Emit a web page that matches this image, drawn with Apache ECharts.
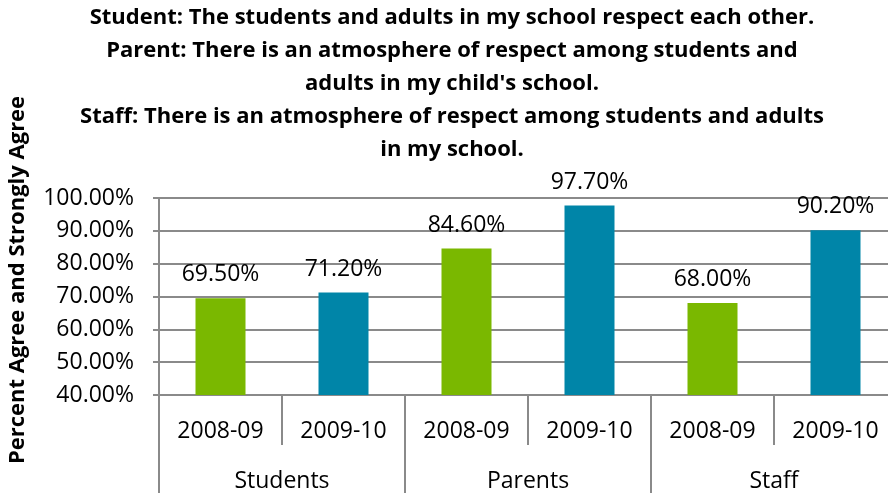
<!DOCTYPE html>
<html>
<head>
<meta charset="utf-8">
<script src="https://cdn.jsdelivr.net/npm/echarts@6/dist/echarts.min.js"></script>
<style>
html,body{margin:0;padding:0;background:#fff;}
#chart{width:888px;height:493px;}
</style>
</head>
<body>
<div id="chart"></div>
<script>
const titleLines = [
  "Student: The students and adults in my school respect each other.",
  "Parent: There is an atmosphere of respect among students and",
  "adults in my child's school.",
  "Staff: There is an atmosphere of respect among students and adults",
  "in my school."
];
const yAxisTitle = "Percent Agree and Strongly Agree";
const years = ["2008-09", "2009-10", "2008-09", "2009-10", "2008-09", "2009-10"];
const groups = ["Students", "Parents", "Staff"];
const values = [69.5, 71.2, 84.6, 97.7, 68.0, 90.2];
const yearColors = { "2008-09": "#7ab800", "2009-10": "#0085a8" };

const FONT = "'Open Sans', sans-serif";
const chart = echarts.init(document.getElementById('chart'), null, { renderer: 'canvas' });
chart.setOption({
  animation: false,
  backgroundColor: '#fff',
  title: {
    text: titleLines.join('\n'),
    left: 452,
    top: 1,
    padding: 0,
    textAlign: 'center',
    textStyle: { fontFamily: FONT, fontSize: 22, fontWeight: 'bold', color: '#000', lineHeight: 33 }
  },
  graphic: [{
    type: 'text',
    x: 18, y: 280,
    rotation: Math.PI / 2,
    style: {
      text: yAxisTitle,
      fontFamily: FONT, fontSize: 22, fontWeight: 'bold', fill: '#000',
      align: 'center', verticalAlign: 'middle'
    }
  }],
  grid: { left: 159, width: 738, top: 198, bottom: 98, containLabel: false, outerBoundsMode: 'none' },
  xAxis: [
    {
      type: 'category',
      data: years,
      position: 'bottom',
      axisLine: { show: true, lineStyle: { color: '#8a8a8a', width: 2 } },
      axisTick: { show: true, interval: 0, length: 50, lineStyle: { color: '#8a8a8a', width: 2 } },
      axisLabel: { interval: 0, margin: 25, fontFamily: FONT, fontSize: 23, color: '#000' }
    },
    {
      type: 'category',
      data: groups,
      position: 'bottom',
      offset: 50,
      axisLine: { show: false },
      axisTick: { show: true, interval: 0, length: 50, lineStyle: { color: '#8a8a8a', width: 2 } },
      axisLabel: { interval: 0, margin: 25, fontFamily: FONT, fontSize: 23, color: '#000' }
    }
  ],
  yAxis: {
    type: 'value',
    min: 40, max: 100, interval: 10,
    axisLine: { show: true, lineStyle: { color: '#8a8a8a', width: 2 } },
    axisTick: { show: true, length: 6, lineStyle: { color: '#8a8a8a', width: 2 } },
    splitLine: { show: true, lineStyle: { color: '#8a8a8a', width: 2 } },
    axisLabel: {
      margin: 25, fontFamily: FONT, fontSize: 23, color: '#000',
      formatter: v => v.toFixed(2) + '%'
    }
  },
  series: [{
    type: 'bar',
    xAxisIndex: 0,
    barWidth: 50,
    data: values.map((v, i) => ({ value: v, itemStyle: { color: yearColors[years[i]] } })),
    label: {
      show: true, position: 'top', distance: 12,
      fontFamily: FONT, fontSize: 23, color: '#000',
      formatter: p => p.value.toFixed(2) + '%'
    }
  }]
});
</script>
</body>
</html>
